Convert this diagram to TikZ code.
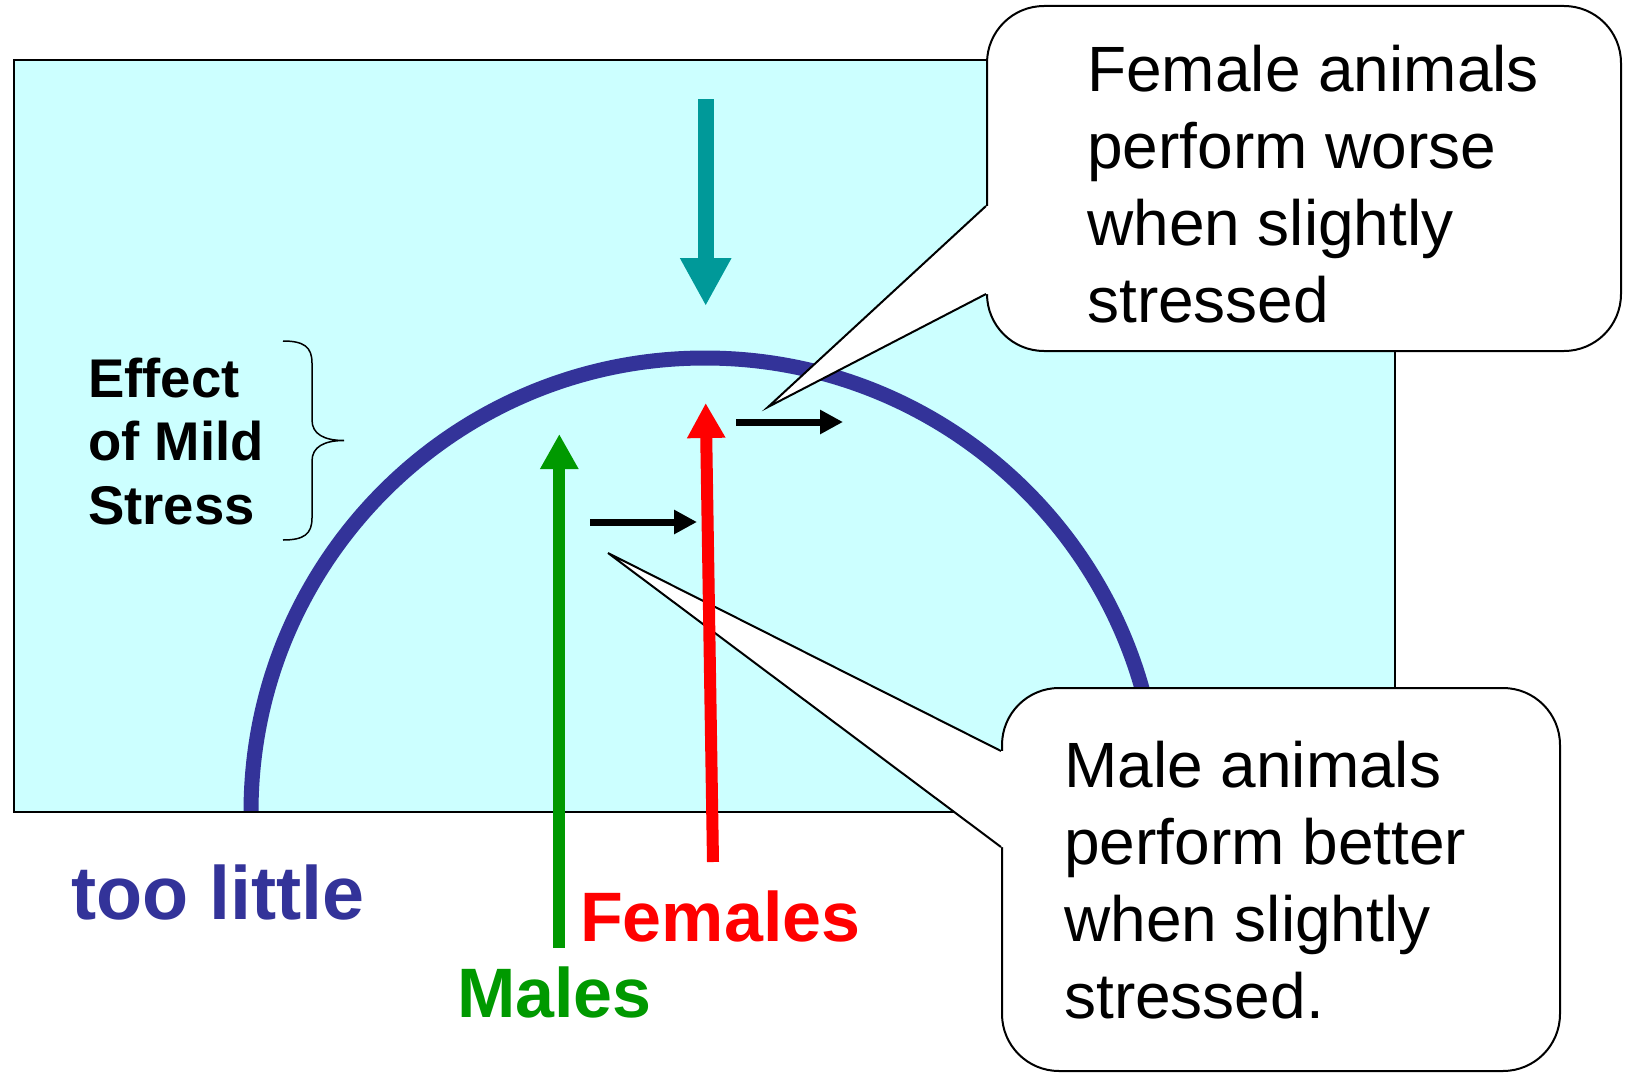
\documentclass[tikz,border=0pt]{standalone}
\usepackage{fontspec}
\setmainfont{Liberation Sans}
\usetikzlibrary{arrows.meta}
\definecolor{bgcyan}{RGB}{204,255,255}
\definecolor{arcblue}{RGB}{51,51,153}
\definecolor{tealc}{RGB}{0,153,153}
\definecolor{greenc}{RGB}{0,153,0}
\definecolor{redc}{RGB}{255,0,0}
\begin{document}
\begin{tikzpicture}[x=1pt,y=-1pt,
  callbox/.style={draw=black, line width=2pt, fill=white, rounded corners=57pt, inner sep=0pt, anchor=north west},
  wedge/.style={draw=black, line width=2pt},
  bigarrow/.style={line width=12pt, -{Triangle[length=35pt,width=36pt]}},
  smallarrow/.style={draw=black, line width=7pt, -{Triangle[length=23pt,width=23pt]}},
  bodytext/.style={font=\fontsize{64}{77}\selectfont, align=left, inner sep=0pt, anchor=north west},
  labeltext/.style={font=\bfseries\fontsize{70}{80}\selectfont, inner sep=0pt, anchor=base west}]
\useasboundingbox (0,0) rectangle (1633,1073);
\fill[white] (0,0) rectangle (1633,1073);

% background panel
\fill[bgcyan] (13.5,60) rectangle (1395,812);
% curve
\draw[arcblue, line width=15pt] (251,812) arc[start angle=180, end angle=360, radius=454];
\draw[black, line width=2pt] (13.5,60) rectangle (1395,812);

% top callout
\node[callbox, minimum width=634pt, minimum height=345pt] (fbox) at (986,5) {};
\coordinate (fa) at (986,206);
\coordinate (fb) at (986,294);
\coordinate (ftip) at (768,407);
\fill[white] (ftip) -- (fa) -- (993,206) -- (993,294) -- (fb) -- cycle;
\draw[wedge] (fa) -- (ftip) -- (fb);
\node[bodytext] (ftext) at (1087,45) {Female animals\\perform worse\\when slightly\\stressed};

% bottom callout
\node[callbox, minimum width=558pt, minimum height=383pt] (mbox) at (1001,687) {};
\coordinate (ma) at (1001,751);
\coordinate (mb) at (1001,847);
\coordinate (mtip) at (608,553);
\fill[white] (mtip) -- (ma) -- (1008,751) -- (1008,847) -- (mb) -- cycle;
\draw[wedge] (ma) -- (mtip) -- (mb);
\node[bodytext] (mtext) at (1064,741) {Male animals\\perform better\\when slightly\\stressed.};

% arrows
\coordinate (tA) at (705.7,99);
\coordinate (tB) at (705.7,306);
\draw[tealc, line width=16pt, -{Triangle[length=48pt,width=48pt]}] (tA) -- (tB);

\coordinate (rA) at (713,862);
\coordinate (rB) at (705.7,403);
\draw[redc, bigarrow] (rA) -- (rB);

\coordinate (gA) at (559.3,948);
\coordinate (gB) at (559.3,434);
\draw[greenc, bigarrow] (gA) -- (gB);

\coordinate (k1A) at (736,422);
\coordinate (k1B) at (843,422);
\draw[smallarrow] (k1A) -- (k1B);
\coordinate (k2A) at (590,522);
\coordinate (k2B) at (697,522);
\draw[smallarrow] (k2A) -- (k2B);

% brace
\draw[black, line width=1.5pt] (283,341) .. controls (304,341) and (312,347) .. (312,363)
  -- (312,420) .. controls (312,434) and (324,440.5) .. (344,440.5)
  .. controls (324,440.5) and (312,447) .. (312,461)
  -- (312,518) .. controls (312,534) and (304,540) .. (283,540);
\node[font=\bfseries\fontsize{54.5}{63.5}\selectfont, align=left, inner sep=0pt, anchor=north west] (effect) at (88,357.5) {Effect\\of Mild\\Stress};

% labels
\node[labeltext, text=arcblue, font=\bfseries\fontsize{75.5}{80}\selectfont] (little) at (71,919) {too little};
\node[labeltext, text=redc] (fem) at (580,941) {Females};
\node[labeltext, text=greenc] (mal) at (457,1017) {Males};
\end{tikzpicture}
\end{document}
